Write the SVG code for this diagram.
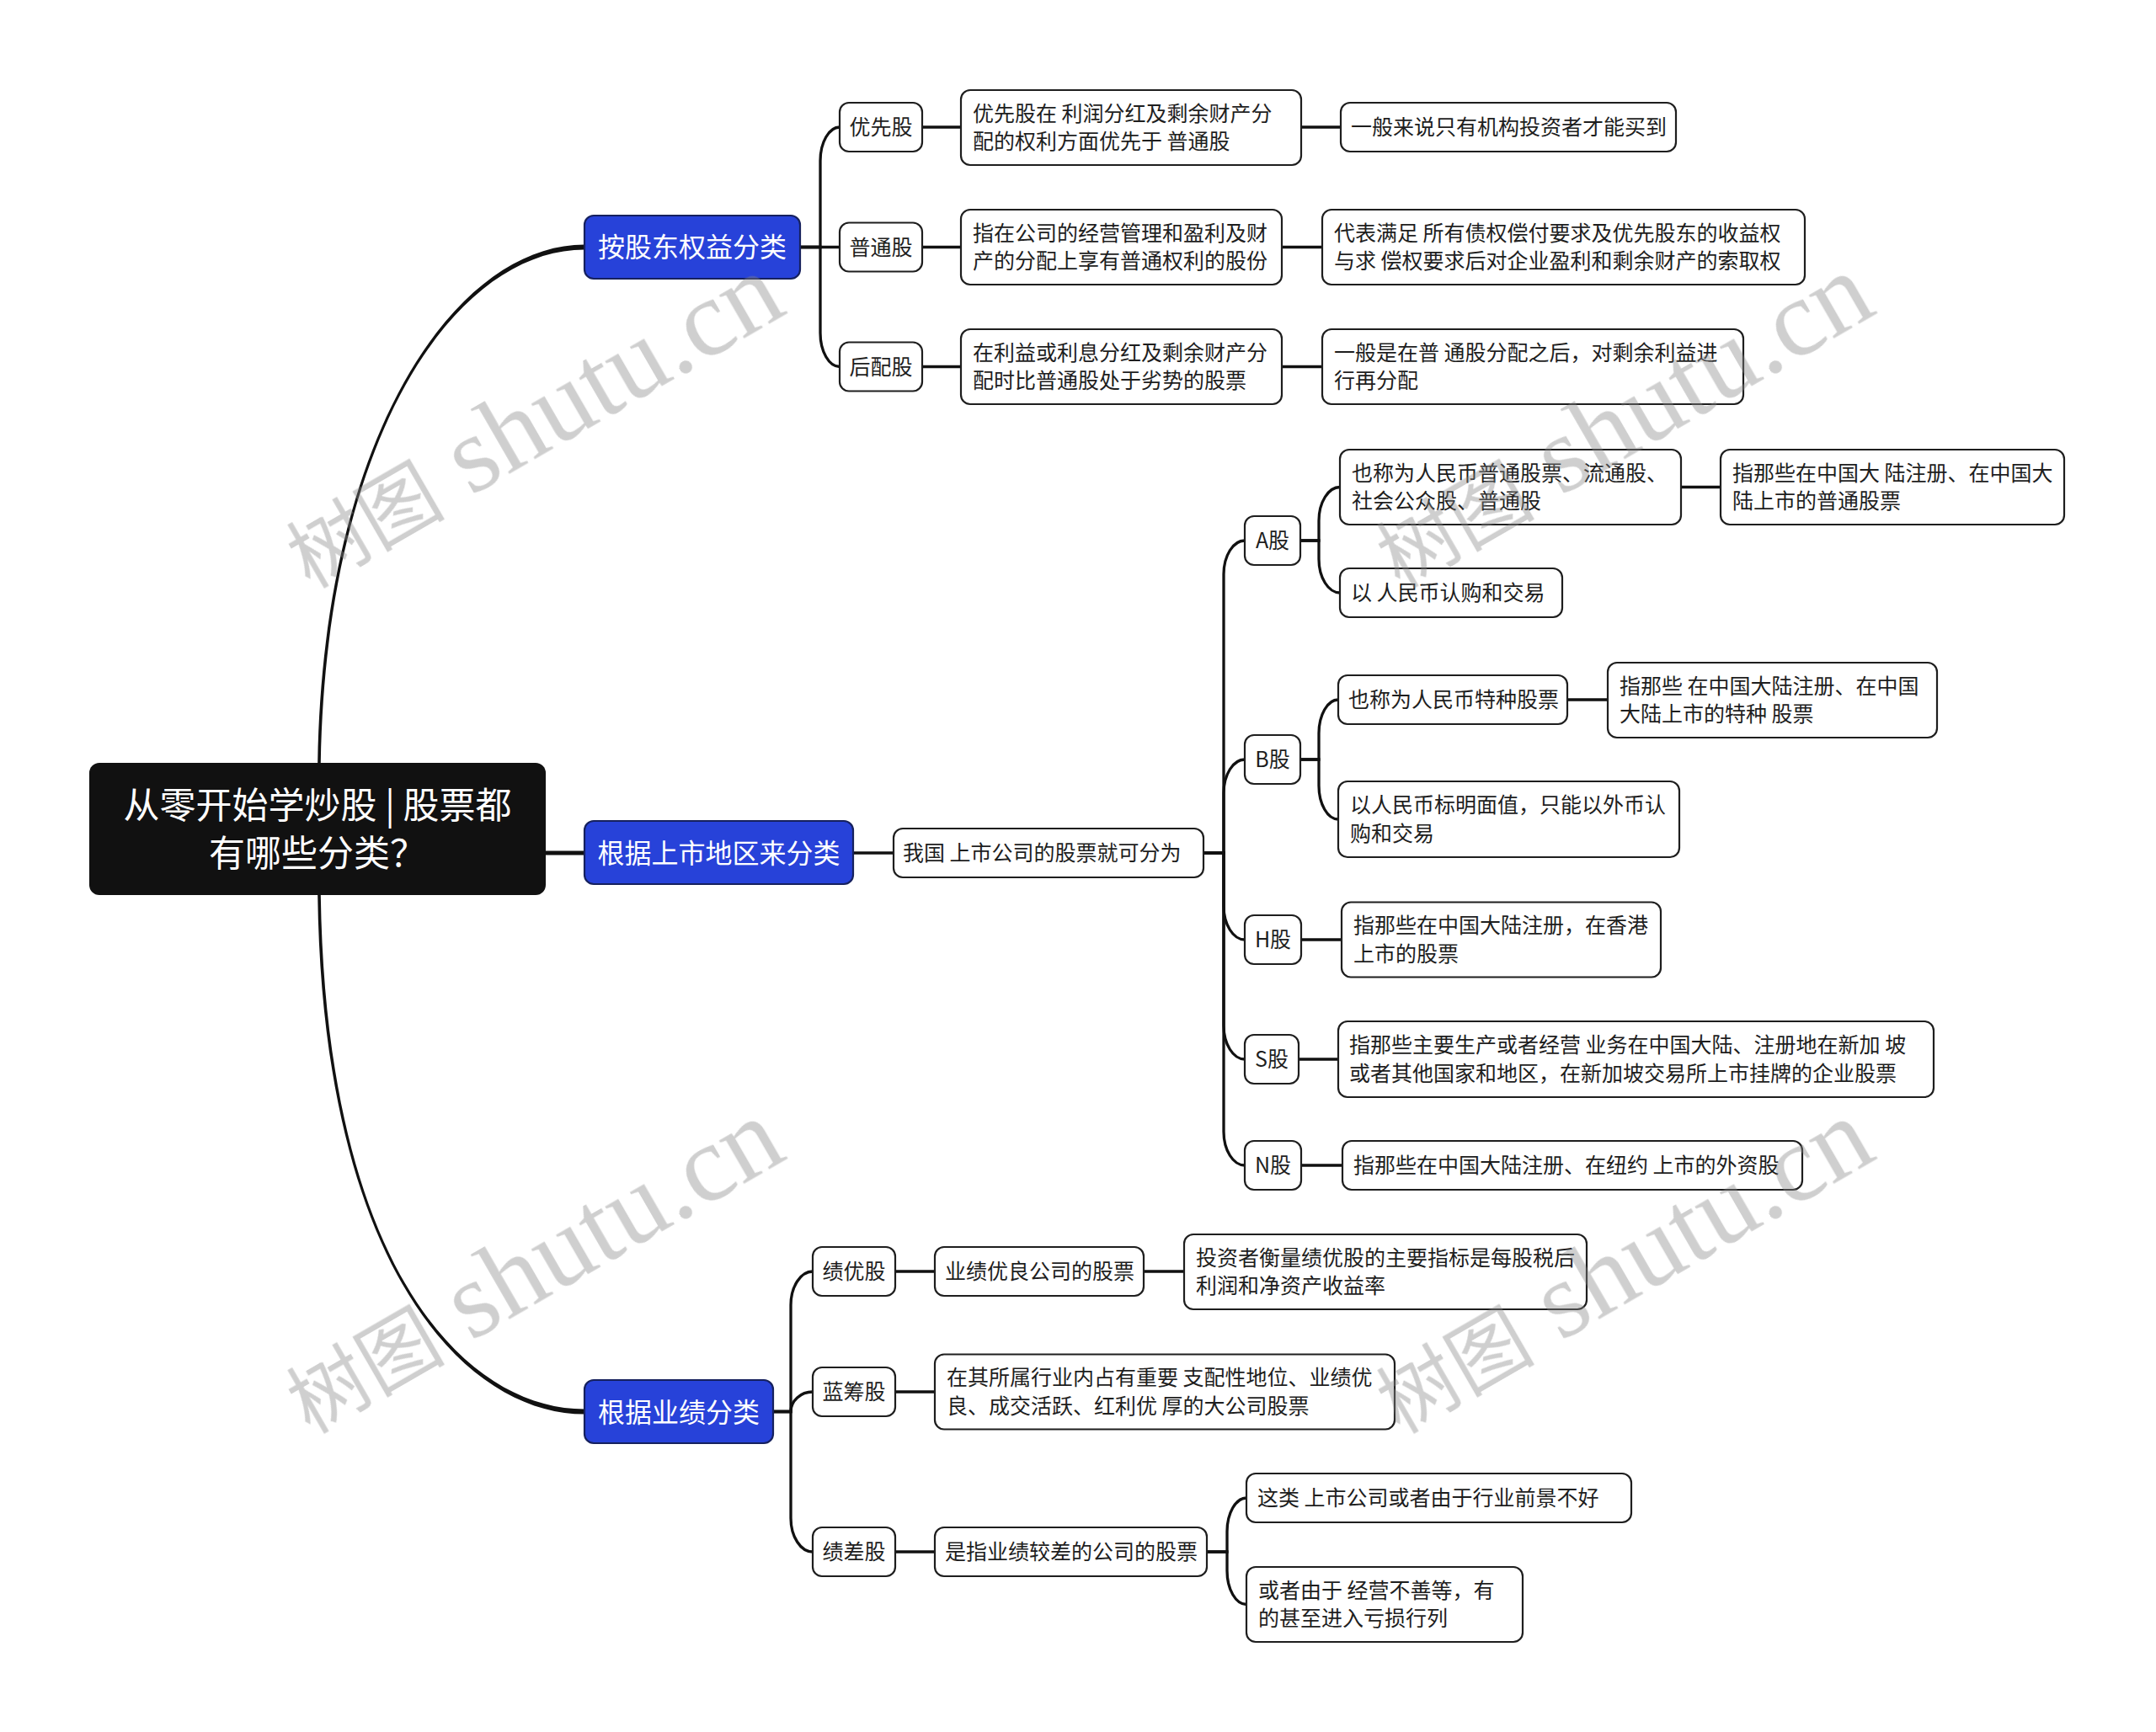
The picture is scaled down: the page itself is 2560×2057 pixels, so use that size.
<svg xmlns="http://www.w3.org/2000/svg" width="2560" height="2057" viewBox="0 0 2560 2057">
<style>
.n rect{fill:#fff;stroke:#1e1e1e;stroke-width:2.2}
.l1 rect{fill:#2742d9;stroke:#16215e;stroke-width:2.2}
.root rect{fill:#111}
text{font-family:"Noto Sans CJK SC","Noto Sans",sans-serif}
.t{font-size:25px;fill:#1e1e1e}
.tc{font-size:25px;fill:#1e1e1e;text-anchor:middle}
.l1 text{font-size:32px;fill:#fff;text-anchor:middle}
.root text{font-size:43px;fill:#fff;text-anchor:middle}
.c path{fill:none;stroke:#111;stroke-width:3.3}
.c path.thick{stroke-width:5}
.c path.taper{fill:#111;stroke:none}
.wm{fill:#888;opacity:.4}
.wm .cj{font-family:"Noto Sans CJK SC",sans-serif;font-size:94px}
.wm .lt{font-family:"Liberation Serif",serif;font-size:130px}
</style>
<rect width="2560" height="2057" fill="#fff"/>
<g class="c" id="connectors">
<path class="taper" d="M377.2 906 C383 520 540 290.5 694 290.5 L694 296.5 C540 296.5 387 520 380.8 906 Z"/>
<path class="taper" d="M377.2 1063 C383 1500 550 1679.5 694 1679.5 L694 1673.5 C550 1673.5 387 1500 380.8 1063 Z"/>
<path class="thick" d="M646 1013 L694 1013"/>
<path d="M950 293.5 L974 293.5 L974 191 C974 169 984.4 151 997 151"/>
<path d="M950 293.5 L997 293.5"/>
<path d="M950 293.5 L974 293.5 L974 395.5 C974 417.5 984.4 435.5 997 435.5"/>
<path d="M1095 151 L1141 151"/>
<path d="M1545 151 L1592 151"/>
<path d="M1095 293.5 L1141 293.5"/>
<path d="M1522 293.5 L1570 293.5"/>
<path d="M1095 435.5 L1141 435.5"/>
<path d="M1522 435.5 L1570 435.5"/>
<path d="M1013 1013 L1061 1013"/>
<path d="M1429 1013 L1453 1013 L1453 682 C1453 660 1464.25 642 1478 642"/>
<path d="M1429 1013 L1453 1013 L1453 942 C1453 920 1464.25 902 1478 902"/>
<path d="M1429 1013 L1453 1013 L1453 1076 C1453 1098 1464.25 1116 1478 1116"/>
<path d="M1429 1013 L1453 1013 L1453 1218 C1453 1240 1464.25 1258 1478 1258"/>
<path d="M1429 1013 L1453 1013 L1453 1344 C1453 1366 1464.25 1384 1478 1384"/>
<path d="M1544 642 L1566 642 L1566 618.5 C1566 596.5 1577.25 578.5 1591 578.5"/>
<path d="M1544 642 L1566 642 L1566 664 C1566 686 1577.25 704 1591 704"/>
<path d="M1996 578.5 L2043 578.5"/>
<path d="M1544 902 L1566 902 L1566 871 C1566 849 1576.35 831 1589 831"/>
<path d="M1544 902 L1566 902 L1566 933 C1566 955 1576.35 973 1589 973"/>
<path d="M1861 831 L1909 831"/>
<path d="M1545 1116 L1593 1116"/>
<path d="M1542 1258 L1589 1258"/>
<path d="M1545 1384 L1594 1384"/>
<path d="M918 1676.5 L939 1676.5 L939 1550 C939 1528 950.7 1510 965 1510"/>
<path d="M918 1676.5 L939 1676.5 C939 1663.6 950.7 1653 965 1653"/>
<path d="M918 1676.5 L939 1676.5 L939 1803 C939 1825 950.7 1843 965 1843"/>
<path d="M1063 1510 L1110 1510"/>
<path d="M1358 1510 L1406 1510"/>
<path d="M1063 1653 L1110 1653"/>
<path d="M1063 1843 L1110 1843"/>
<path d="M1433 1843 L1457 1843 L1457 1819 C1457 1797 1467.35 1779 1480 1779"/>
<path d="M1433 1843 L1457 1843 L1457 1865.5 C1457 1887.5 1467.35 1905.5 1480 1905.5"/>
</g>
<g id="root" class="root"><rect x="106" y="906" width="542" height="157" rx="12"/><text x="377" y="972">从零开始学炒股 | 股票都</text><text x="377" y="1028.5">有哪些分类？</text></g>
<g id="b1" class="l1"><rect x="694" y="256" width="256" height="75" rx="11"/><text x="822" y="305">按股东权益分类</text></g>
<g id="b2" class="l1"><rect x="694" y="975" width="319" height="75" rx="11"/><text x="853.5" y="1024.5">根据上市地区来分类</text></g>
<g id="b3" class="l1"><rect x="694" y="1639" width="224" height="75" rx="11"/><text x="806" y="1688.5">根据业绩分类</text></g>
<g id="yxg" class="n"><rect x="997" y="122" width="98" height="58" rx="11"/><text class="tc" x="1046" y="160">优先股</text></g>
<g id="ptg" class="n"><rect x="997" y="264.5" width="98" height="58" rx="11"/><text class="tc" x="1046" y="302.5">普通股</text></g>
<g id="hpg" class="n"><rect x="997" y="406.5" width="98" height="58" rx="11"/><text class="tc" x="1046" y="444.5">后配股</text></g>
<g id="yxg-d" class="n"><rect x="1141" y="107" width="404" height="89" rx="11"/><text class="t" x="1155" y="143.75">优先股在 利润分红及剩余财产分</text><text class="t" x="1155" y="177.25">配的权利方面优先于 普通股</text></g>
<g id="yxg-d2" class="n"><rect x="1592" y="122" width="398" height="58" rx="11"/><text class="t" x="1604" y="160">一般来说只有机构投资者才能买到</text></g>
<g id="ptg-d" class="n"><rect x="1141" y="249" width="381" height="89" rx="11"/><text class="t" x="1155" y="285.75">指在公司的经营管理和盈利及财</text><text class="t" x="1155" y="319.25">产的分配上享有普通权利的股份</text></g>
<g id="ptg-d2" class="n"><rect x="1570" y="249" width="573" height="89" rx="11"/><text class="t" x="1584" y="285.75">代表满足 所有债权偿付要求及优先股东的收益权</text><text class="t" x="1584" y="319.25">与求 偿权要求后对企业盈利和剩余财产的索取权</text></g>
<g id="hpg-d" class="n"><rect x="1141" y="391" width="381" height="89" rx="11"/><text class="t" x="1155" y="427.75">在利益或利息分红及剩余财产分</text><text class="t" x="1155" y="461.25">配时比普通股处于劣势的股票</text></g>
<g id="hpg-d2" class="n"><rect x="1570" y="391" width="500" height="89" rx="11"/><text class="t" x="1584" y="427.75">一般是在普 通股分配之后，对剩余利益进</text><text class="t" x="1584" y="461.25">行再分配</text></g>
<g id="wg" class="n"><rect x="1061" y="984" width="368" height="58" rx="11"/><text class="t" x="1072" y="1022">我国 上市公司的股票就可分为</text></g>
<g id="ag" class="n"><rect x="1478" y="613" width="66" height="58" rx="11"/><text class="tc" x="1511" y="651">A股</text></g>
<g id="bg" class="n"><rect x="1478" y="873" width="66" height="58" rx="11"/><text class="tc" x="1511" y="911">B股</text></g>
<g id="hg" class="n"><rect x="1478" y="1087" width="67" height="58" rx="11"/><text class="tc" x="1511.5" y="1125">H股</text></g>
<g id="sg" class="n"><rect x="1478" y="1229" width="64" height="58" rx="11"/><text class="tc" x="1510" y="1267">S股</text></g>
<g id="ng" class="n"><rect x="1478" y="1355" width="67" height="58" rx="11"/><text class="tc" x="1511.5" y="1393">N股</text></g>
<g id="ag-1" class="n"><rect x="1591" y="534" width="405" height="89" rx="11"/><text class="t" x="1605" y="570.75">也称为人民币普通股票、流通股、</text><text class="t" x="1605" y="604.25">社会公众股、普通股</text></g>
<g id="ag-1b" class="n"><rect x="2043" y="534" width="408" height="89" rx="11"/><text class="t" x="2057" y="570.75">指那些在中国大 陆注册、在中国大</text><text class="t" x="2057" y="604.25">陆上市的普通股票</text></g>
<g id="ag-2" class="n"><rect x="1591" y="675" width="264" height="58" rx="11"/><text class="t" x="1604" y="713">以 人民币认购和交易</text></g>
<g id="bg-1" class="n"><rect x="1589" y="802" width="272" height="58" rx="11"/><text class="t" x="1601" y="840">也称为人民币特种股票</text></g>
<g id="bg-1b" class="n"><rect x="1909" y="787" width="391" height="89" rx="11"/><text class="t" x="1923" y="823.75">指那些 在中国大陆注册、在中国</text><text class="t" x="1923" y="857.25">大陆上市的特种 股票</text></g>
<g id="bg-2" class="n"><rect x="1589" y="928" width="405" height="90" rx="11"/><text class="t" x="1603" y="965.25">以人民币标明面值，只能以外币认</text><text class="t" x="1603" y="998.75">购和交易</text></g>
<g id="hg-1" class="n"><rect x="1593" y="1071.5" width="379" height="89" rx="11"/><text class="t" x="1607" y="1108.25">指那些在中国大陆注册，在香港</text><text class="t" x="1607" y="1141.75">上市的股票</text></g>
<g id="sg-1" class="n"><rect x="1589" y="1213" width="707" height="90" rx="11"/><text class="t" x="1602" y="1250.25">指那些主要生产或者经营 业务在中国大陆、注册地在新加 坡</text><text class="t" x="1602" y="1283.75">或者其他国家和地区，在新加坡交易所上市挂牌的企业股票</text></g>
<g id="ng-1" class="n"><rect x="1594" y="1355" width="546" height="58" rx="11"/><text class="t" x="1607" y="1393">指那些在中国大陆注册、在纽约 上市的外资股</text></g>
<g id="jyg" class="n"><rect x="965" y="1481" width="98" height="58" rx="11"/><text class="tc" x="1014" y="1519">绩优股</text></g>
<g id="lcg" class="n"><rect x="965" y="1624" width="98" height="58" rx="11"/><text class="tc" x="1014" y="1662">蓝筹股</text></g>
<g id="jcg" class="n"><rect x="965" y="1814" width="98" height="58" rx="11"/><text class="tc" x="1014" y="1852">绩差股</text></g>
<g id="jyg-1" class="n"><rect x="1110" y="1481" width="248" height="58" rx="11"/><text class="t" x="1122" y="1519">业绩优良公司的股票</text></g>
<g id="jyg-2" class="n"><rect x="1406" y="1466" width="478" height="89" rx="11"/><text class="t" x="1420" y="1502.75">投资者衡量绩优股的主要指标是每股税后</text><text class="t" x="1420" y="1536.25">利润和净资产收益率</text></g>
<g id="lcg-1" class="n"><rect x="1110" y="1608.5" width="546" height="89" rx="11"/><text class="t" x="1124" y="1645.25">在其所属行业内占有重要 支配性地位、业绩优</text><text class="t" x="1124" y="1678.75">良、成交活跃、红利优 厚的大公司股票</text></g>
<g id="jcg-1" class="n"><rect x="1110" y="1814" width="323" height="58" rx="11"/><text class="t" x="1122" y="1852">是指业绩较差的公司的股票</text></g>
<g id="jcg-2" class="n"><rect x="1480" y="1750" width="457" height="58" rx="11"/><text class="t" x="1493" y="1788">这类 上市公司或者由于行业前景不好</text></g>
<g id="jcg-3" class="n"><rect x="1480" y="1861" width="328" height="89" rx="11"/><text class="t" x="1494" y="1897.75">或者由于 经营不善等，有</text><text class="t" x="1494" y="1931.25">的甚至进入亏损行列</text></g>
<g id="watermark" class="wm">
<text transform="translate(368,700) rotate(-30)"><tspan class="cj">树图</tspan><tspan class="lt"> shutu.cn</tspan></text>
<text transform="translate(1662,700) rotate(-30)"><tspan class="cj">树图</tspan><tspan class="lt"> shutu.cn</tspan></text>
<text transform="translate(368,1704) rotate(-30)"><tspan class="cj">树图</tspan><tspan class="lt"> shutu.cn</tspan></text>
<text transform="translate(1662,1704) rotate(-30)"><tspan class="cj">树图</tspan><tspan class="lt"> shutu.cn</tspan></text>
</g>
</svg>
